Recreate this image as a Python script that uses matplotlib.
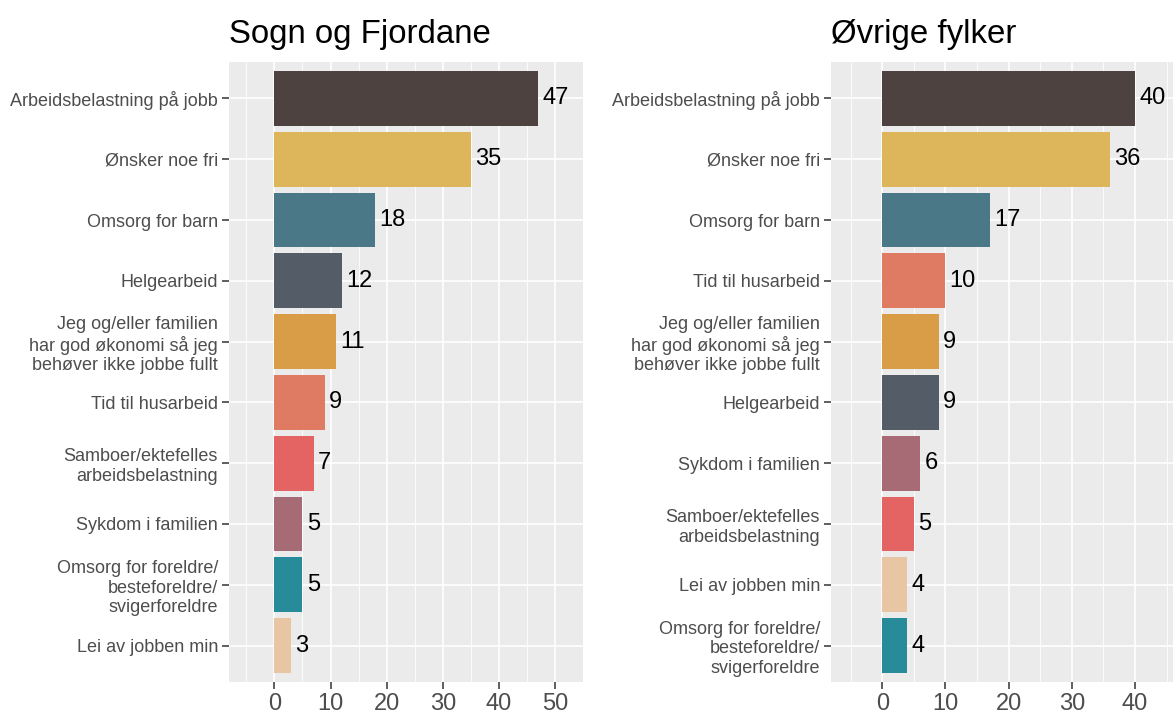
import matplotlib.pyplot as plt

plt.rcParams['font.family'] = ['Liberation Sans', 'DejaVu Sans']

# Sogn og Fjordane (top to bottom)
sf_labels = [
    "Arbeidsbelastning på jobb",
    "Ønsker noe fri",
    "Omsorg for barn",
    "Helgearbeid",
    "Jeg og/eller familien\nhar god økonomi så jeg\nbehøver ikke jobbe fullt",
    "Tid til husarbeid",
    "Samboer/ektefelles\narbeidsbelastning",
    "Sykdom i familien",
    "Omsorg for foreldre/\nbesteforeldre/\nsvigerforeldre",
    "Lei av jobben min",
]
sf_values = [47, 35, 18, 12, 11, 9, 7, 5, 5, 3]

# Øvrige fylker (top to bottom)
ov_labels = [
    "Arbeidsbelastning på jobb",
    "Ønsker noe fri",
    "Omsorg for barn",
    "Tid til husarbeid",
    "Jeg og/eller familien\nhar god økonomi så jeg\nbehøver ikke jobbe fullt",
    "Helgearbeid",
    "Sykdom i familien",
    "Samboer/ektefelles\narbeidsbelastning",
    "Lei av jobben min",
    "Omsorg for foreldre/\nbesteforeldre/\nsvigerforeldre",
]
ov_values = [40, 36, 17, 10, 9, 9, 6, 5, 4, 4]

colors = {
    "Arbeidsbelastning på jobb": "#4E4240",
    "Ønsker noe fri": "#DDB65B",
    "Omsorg for barn": "#4A7887",
    "Helgearbeid": "#535C67",
    "Jeg og/eller familien\nhar god økonomi så jeg\nbehøver ikke jobbe fullt": "#DA9D47",
    "Tid til husarbeid": "#DF7A63",
    "Samboer/ektefelles\narbeidsbelastning": "#E46464",
    "Sykdom i familien": "#A66B75",
    "Omsorg for foreldre/\nbesteforeldre/\nsvigerforeldre": "#278B99",
    "Lei av jobben min": "#E8C5A3",
}

fig = plt.figure(figsize=(11.73, 7.13), dpi=100)
ax1 = fig.add_axes([229 / 1173, 31 / 713, 354 / 1173, 620 / 713])
ax2 = fig.add_axes([831 / 1173, 31 / 713, 342 / 1173, 620 / 713])


def panel(ax, title, labels, values, xlim, xmajor):
    ax.set_facecolor("#EBEBEB")
    for s in ax.spines.values():
        s.set_visible(False)
    pos = list(range(len(labels)))
    ax.barh(pos, values, height=0.9, color=[colors[l] for l in labels], zorder=3)
    for p, v in zip(pos, values):
        ax.annotate(str(v), (v, p), xytext=(3, 0), textcoords="offset points",
                    ha="left", va="center", fontsize=17, color="black", zorder=4)
    ax.set_xlim(*xlim)
    ax.set_ylim(len(labels) - 0.4, -0.6)
    ax.set_xticks(xmajor)
    ax.set_xticks([x + 5 for x in [-10] + xmajor], minor=True)
    ax.set_yticks(pos)
    ax.set_yticklabels(labels)
    ax.grid(which="major", color="white", linewidth=1.2, zorder=0)
    ax.grid(which="minor", axis="x", color="white", linewidth=0.6, zorder=0)
    ax.set_axisbelow(True)
    ax.tick_params(axis="y", which="major", length=5, width=1.1, color="#333333",
                   labelsize=13, labelcolor="#4D4D4D", pad=3)
    ax.tick_params(axis="x", which="major", length=5, width=1.1, color="#333333",
                   labelsize=17, labelcolor="#4D4D4D", pad=3)
    ax.tick_params(axis="x", which="minor", length=0)
    for lbl in ax.get_yticklabels():
        lbl.set_linespacing(1.2)
    ax.set_title(title, loc="left", fontsize=23.8, pad=14)


panel(ax1, "Sogn og Fjordane", sf_labels, sf_values, (-8.1, 54.6), [0, 10, 20, 30, 40, 50])
panel(ax2, "Øvrige fylker", ov_labels, ov_values, (-8.1, 46.0), [0, 10, 20, 30, 40])

fig.savefig("out.png", dpi=100)
